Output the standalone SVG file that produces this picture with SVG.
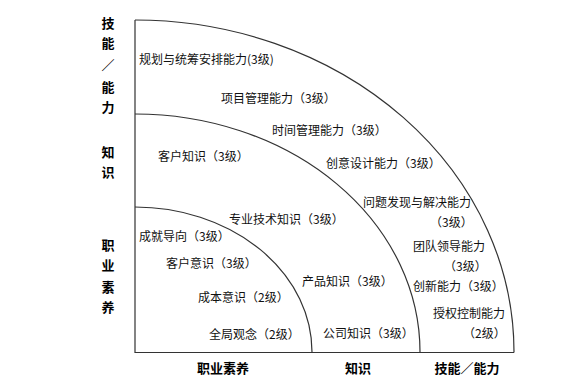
<svg xmlns="http://www.w3.org/2000/svg" width="587" height="385" viewBox="0 0 587 385">
<style>
.ln{fill:none;stroke:#333;stroke-width:1.2}
text{font-family:"Noto Sans CJK SC","Noto Sans",sans-serif;font-size:12px;fill:#111}
.b{font-weight:bold;font-size:13px;text-anchor:middle;fill:#000}
</style>
<rect width="587" height="385" fill="#fff"/>
<g id="frame">
<path class="ln" d="M135,20 V352.5 H514"/>
<path class="ln" d="M135,20 A379,332 0 0 1 514,352.5"/>
<path class="ln" d="M135,114 A285,238 0 0 1 420,352.5"/>
<path class="ln" d="M135,207 A177,145 0 0 1 312,352.5"/>
</g>
<g id="axis-labels">
<text class="b" x="108" y="28">技</text>
<text class="b" x="108" y="48">能</text>
<text class="b" x="108" y="70">／</text>
<text class="b" x="108" y="92">能</text>
<text class="b" x="108" y="112">力</text>
<text class="b" x="108" y="157">知</text>
<text class="b" x="108" y="177">识</text>
<text class="b" x="108" y="250">职</text>
<text class="b" x="108" y="270">业</text>
<text class="b" x="108" y="292">素</text>
<text class="b" x="108" y="312">养</text>
<text class="b" x="223" y="373">职业素养</text>
<text class="b" x="358" y="373">知识</text>
<text class="b" x="467" y="373">技能／能力</text>
</g>
<g id="skills">
<text x="139" y="64">规划与统筹安排能力(3级)</text>
<text x="221" y="103">项目管理能力（3级）</text>
<text x="272" y="135">时间管理能力（3级）</text>
<text x="326" y="168">创意设计能力（3级）</text>
<text x="363" y="207">问题发现与解决能力</text>
<text x="430" y="227">（3级）</text>
<text x="413" y="251">团队领导能力</text>
<text x="444" y="271">（3级）</text>
<text x="413" y="291">创新能力（3级）</text>
<text x="433" y="318">授权控制能力</text>
<text x="463" y="338">（2级）</text>
</g>
<g id="knowledge">
<text x="158" y="161">客户知识（3级）</text>
<text x="229" y="224">专业技术知识（3级）</text>
<text x="302" y="286">产品知识（3级）</text>
<text x="323" y="338">公司知识（3级）</text>
</g>
<g id="literacy">
<text x="139" y="241">成就导向（3级）</text>
<text x="166" y="268">客户意识（3级）</text>
<text x="198" y="302">成本意识（2级）</text>
<text x="209" y="339">全局观念（2级）</text>
</g>
</svg>
